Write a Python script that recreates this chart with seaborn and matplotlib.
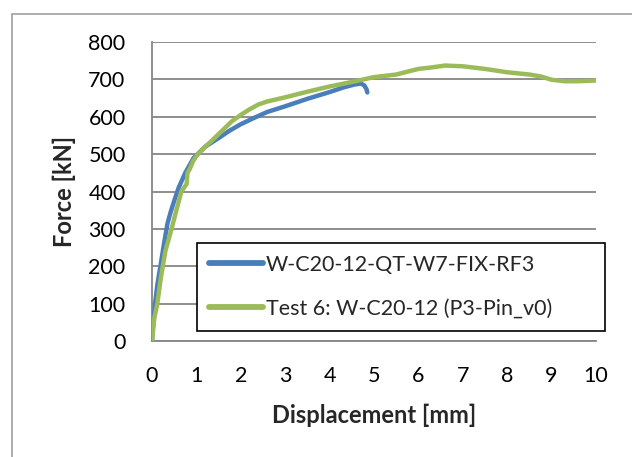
import matplotlib
matplotlib.use("Agg")
import matplotlib.pyplot as plt
import seaborn as sns
import pandas as pd
from matplotlib.patches import Rectangle

# FE model curve
fem_disp = [0.0, 0.03, 0.07, 0.12, 0.19, 0.27, 0.35, 0.42, 0.5, 0.6, 0.75, 0.94, 1.2, 1.5, 1.75, 2.0, 2.3, 2.6, 3.0, 3.5, 4.0, 4.3, 4.55, 4.7, 4.78, 4.83, 4.85]
fem_force = [0.0, 50, 100, 150, 200, 260, 315, 345, 375, 410, 450, 490, 520, 543, 563, 580, 597, 613, 628, 648, 666, 678, 686, 689, 684, 674, 665]

# Test curve
test_disp = [0.0, 0.05, 0.12, 0.2, 0.3, 0.44, 0.55, 0.66, 0.72, 0.78, 0.8, 0.85, 0.92, 1.03, 1.2, 1.4, 1.6, 1.8, 2.0, 2.2, 2.4, 2.6, 3.0, 3.5, 4.0, 4.5, 5.0, 5.5, 6.0, 6.3, 6.6, 7.0, 7.5, 8.0, 8.5, 8.75, 9.0, 9.3, 9.6, 10.0]
test_force = [0.0, 60, 100, 170, 240, 300, 350, 400, 410, 420, 450, 460, 480, 500, 520, 542, 565, 588, 605, 620, 633, 641, 652, 667, 681, 693, 706, 713, 728, 732, 737, 735, 728, 719, 713, 708, 699, 695, 695, 697]

x_ticks = [0, 1, 2, 3, 4, 5, 6, 7, 8, 9, 10]
y_ticks = [0, 100, 200, 300, 400, 500, 600, 700, 800]

label_fem = "W-C20-12-QT-W7-FIX-RF3"
label_test = "Test 6: W-C20-12 (P3-Pin_v0)"
x_label = "Displacement [mm]"
y_label = "Force [kN]"

sns.set_style("white")
plt.rcParams['font.family'] = ['Lato', 'DejaVu Sans']

fig = plt.figure(figsize=(6.32, 4.57), dpi=100)
ax = fig.add_axes([152/632, 1-341/457, (596-152)/632, (341-42)/457])

df_fem = pd.DataFrame({"x": fem_disp, "y": fem_force})
df_test = pd.DataFrame({"x": test_disp, "y": test_force})

sns.lineplot(data=df_fem, x="x", y="y", ax=ax, color="#4a7ebb", linewidth=3.2,
             sort=False, estimator=None, label=label_fem, zorder=3)
sns.lineplot(data=df_test, x="x", y="y", ax=ax, color="#9bbb59", linewidth=3.2,
             sort=False, estimator=None, label=label_test, zorder=4)

ax.set_xlim(0, 10)
ax.set_ylim(0, 800)
ax.set_xticks(x_ticks)
ax.set_yticks(y_ticks)
ax.set_xticklabels([str(t) for t in x_ticks])
ax.set_yticklabels([str(t) for t in y_ticks])

grid_c = "#868686"
ax.yaxis.grid(True, color=grid_c, linewidth=1.3)
ax.xaxis.grid(False)
ax.set_axisbelow(True)
for s in ["top", "right"]:
    ax.spines[s].set_visible(False)
for s in ["left", "bottom"]:
    ax.spines[s].set_color(grid_c)
    ax.spines[s].set_linewidth(1.3)

ax.tick_params(axis="x", direction="out", length=4, width=1.2, color=grid_c,
               labelsize=15.5, pad=14, labelcolor="black")
ax.tick_params(axis="y", length=0, labelsize=15.5, pad=19, labelcolor="black")

ax.set_xlabel(x_label, fontsize=17, fontweight="bold", labelpad=13)
ax.set_ylabel(y_label, fontsize=17, fontweight="bold", labelpad=9)

leg = ax.legend(loc="upper left", bbox_to_anchor=(197/632, 1-331/457, (605-197)/632, (331-243)/457),
                bbox_transform=fig.transFigure, mode="expand", fontsize=15.5,
                frameon=True, fancybox=False, handlelength=2.5, handletextpad=0.15,
                borderpad=0.55, labelspacing=1.12, borderaxespad=0)
leg.get_frame().set_edgecolor("black")
leg.get_frame().set_linewidth(1.2)
leg.get_frame().set_alpha(1)
for line in leg.get_lines():
    line.set_linewidth(4.2)
    line.set_solid_capstyle("round")

fig.patches.append(Rectangle((12/632, -0.1), 1.2, 1 - 14/457 + 0.1, transform=fig.transFigure,
                             fill=False, edgecolor="#a0a0a0", linewidth=1.2))

fig.savefig("out.png", dpi=100)
